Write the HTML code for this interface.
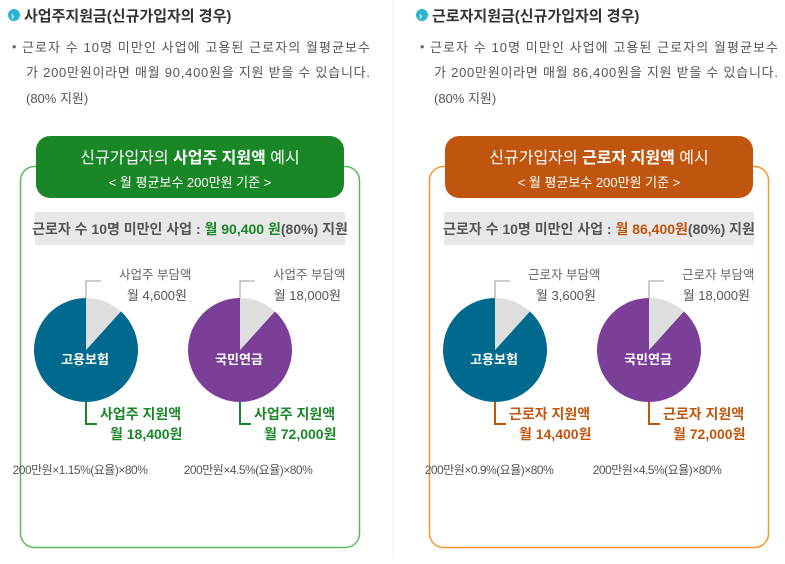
<!DOCTYPE html>
<html><head><meta charset="utf-8"><style>
body{margin:0;background:#fff;width:785px;height:559px;overflow:hidden}
svg text{font-family:"Liberation Sans","Noto Sans CJK KR",sans-serif}
</style></head><body>
<svg id="s" width="785" height="559" viewBox="0 0 785 559" xmlns="http://www.w3.org/2000/svg">
<line x1="393" y1="0" x2="393" y2="559" stroke="#eee"/>
<g>
<circle cx="14" cy="15" r="6" fill="#2bb3cf"/><text x="11" y="19" font-size="10" fill="#fff" font-weight="bold">›</text>
<text x="24" y="21" font-size="15" font-weight="bold" fill="#333">사업주지원금(신규가입자의 경우)</text>
<text x="12" y="51" font-size="12.5" fill="#666">•</text>
<text x="22" y="52" font-size="13" fill="#555" textLength="348">근로자 수 10명 미만인 사업에 고용된 근로자의 월평균보수</text>
<text x="26" y="77" font-size="13" fill="#555" textLength="344">가 200만원이라면 매월 90,400원을 지원 받을 수 있습니다.</text>
<text x="26" y="103" font-size="13" fill="#555">(80% 지원)</text>
</g>
<g>
<circle cx="422" cy="15" r="6" fill="#2bb3cf"/><text x="419" y="19" font-size="10" fill="#fff" font-weight="bold">›</text>
<text x="432" y="21" font-size="15" font-weight="bold" fill="#333">근로자지원금(신규가입자의 경우)</text>
<text x="420" y="51" font-size="12.5" fill="#666">•</text>
<text x="430" y="52" font-size="13" fill="#555" textLength="348">근로자 수 10명 미만인 사업에 고용된 근로자의 월평균보수</text>
<text x="434" y="77" font-size="13" fill="#555" textLength="344">가 200만원이라면 매월 86,400원을 지원 받을 수 있습니다.</text>
<text x="434" y="103" font-size="13" fill="#555">(80% 지원)</text>
</g>
<g id="panels"></g>
</svg>
<script>
const panelOffsets=[0,409];
const panelColors=['#1a8727','#c0550f'];
const borderColors=['#5cb85c','#f7962e'];
const accentColors=['#1a8727','#c0550f'];
const headerBold=['사업주 지원액','근로자 지원액'];
const summaryAmount=['월 90,400 원','월 86,400원'];
const roleName=['사업주','근로자'];
const pieNames=['고용보험','국민연금'];
const pieColors=['#006a8e','#7b3f98'];
const burdenAmounts=[['월 4,600원','월 18,000원'],['월 3,600원','월 18,000원']];
const supportAmounts=[['월 18,400원','월 72,000원'],['월 14,400원','월 72,000원']];
const burdenShares=[[11.7,11.7],[11.7,11.7]];
const formulas=[['200만원×1.15%(요율)×80%','200만원×4.5%(요율)×80%'],['200만원×0.9%(요율)×80%','200만원×4.5%(요율)×80%']];
const NS='http://www.w3.org/2000/svg';
const g=document.getElementById('panels');
function mk(tag,attrs,parent,txt){const e=document.createElementNS(NS,tag);for(const k in attrs)e.setAttribute(k,attrs[k]);if(txt!==undefined)e.textContent=txt;(parent||g).appendChild(e);return e;}
panelOffsets.forEach((ox,p)=>{
 const pg=mk('g',{transform:'translate('+ox+',0)'});
 
 
 const box=mk('rect',{x:20.5,y:166.5,width:339,height:381,rx:14,fill:'none',stroke:borderColors[p],'stroke-width':1.5},pg);
 
 
 const hd=mk('rect',{x:36,y:136,width:308,height:62,rx:14,fill:panelColors[p]},pg);
 
 
 const t1=mk('text',{x:190,y:163,'font-size':16,fill:'#fff','text-anchor':'middle'},pg);
 mk('tspan',{},t1,'신규가입자의 ');mk('tspan',{'font-weight':'bold'},t1,headerBold[p]);mk('tspan',{},t1,' 예시');
 
 
 mk('text',{x:190,y:187,'font-size':13,fill:'#fff','text-anchor':'middle'},pg,'< 월 평균보수 200만원 기준 >');
 const sb=mk('rect',{x:35,y:212,width:310,height:33,fill:'#e8e8e8'},pg);
 
 
 const st=mk('text',{x:190,y:234,'font-size':14,fill:'#555','text-anchor':'middle','font-weight':'bold'},pg);
 mk('tspan',{},st,'근로자 수 10명 미만인 사업 : ');mk('tspan',{fill:accentColors[p]},st,summaryAmount[p]);mk('tspan',{},st,'(80%) 지원');
 [86,240].forEach((cx,i)=>{
  const cy=350,r=52;
  const share=burdenShares[p][i]/100;
  const a=share*2*Math.PI;
  const ex=cx+r*Math.sin(a),ey=cy-r*Math.cos(a);
  const pie=mk('g',{},pg);
  
  
  const main=mk('path',{d:`M${cx},${cy} L${ex},${ey} A${r},${r} 0 ${share>0.5?0:1} 1 ${cx},${cy-r} Z`,fill:pieColors[i]},pie);
  
  
  const gs=mk('path',{d:`M${cx},${cy} L${cx},${cy-r} A${r},${r} 0 ${share>0.5?1:0} 1 ${ex},${ey} Z`,fill:'#dedede'},pie);
  
  
  mk('text',{x:cx-1,y:cy+14,'font-size':13,'font-weight':'bold',fill:'#fff','text-anchor':'middle'},pie,pieNames[i]);
  mk('polyline',{points:`${cx},${cy-r} ${cx},${cy-69} ${cx+15},${cy-69}`,fill:'none',stroke:'#bbb','stroke-width':1.5},pie);
  const bl=mk('text',{x:cx+33,y:cy-71,'font-size':12.5,fill:'#666'},pie,roleName[p]+' 부담액');
  
  
  mk('text',{x:cx+101,y:cy-50,'font-size':13,fill:'#555','text-anchor':'end'},pie,burdenAmounts[p][i]);
  mk('polyline',{points:`${cx},${cy+r} ${cx},${cy+74} ${cx+11},${cy+74}`,fill:'none',stroke:accentColors[p],'stroke-width':2},pie);
  const sl=mk('text',{x:cx+14,y:cy+69,'font-size':14,'font-weight':'bold',fill:accentColors[p]},pie,roleName[p]+' 지원액');
  
  
  mk('text',{x:cx+24,y:cy+89,'font-size':14,'font-weight':'bold',fill:accentColors[p]},pie,supportAmounts[p][i]);
  const f=mk('text',{x:cx+(i?8:-6),y:474,'font-size':12,fill:'#555','text-anchor':'middle','letter-spacing':'-0.5'},pg,formulas[p][i]);
  
  
 });
});
</script>
</body></html>
